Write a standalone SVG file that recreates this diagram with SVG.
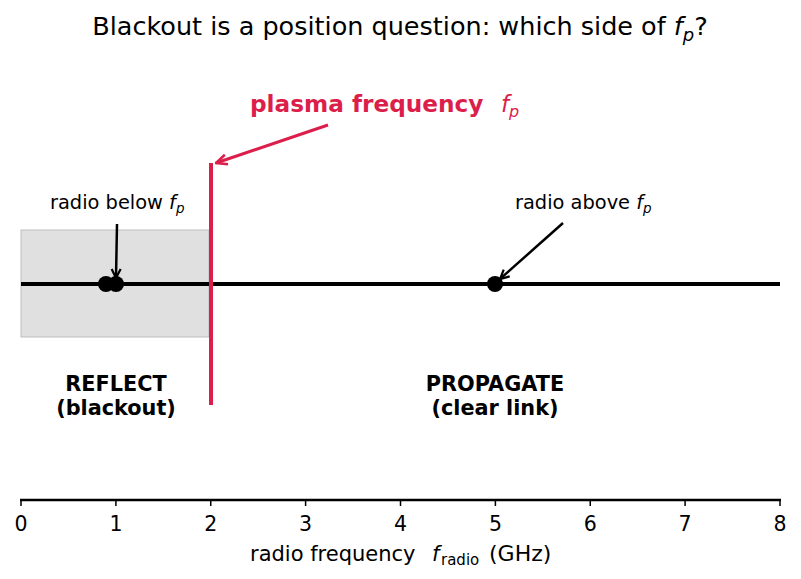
<svg xmlns="http://www.w3.org/2000/svg" width="801" height="579" viewBox="0 0 801 579">
<style>
text{font-family:"DejaVu Sans","Liberation Sans",sans-serif;fill:#000}
.tick{font-size:20.5px;text-anchor:middle}
.ann{font-size:19.4px}
.zone{font-size:20.8px;font-weight:bold;text-anchor:middle}
.it{font-style:italic;font-weight:normal}
.red{fill:#dc1e4b}
</style>
<defs>
<marker id="ab" viewBox="0 0 12 12" refX="11" refY="6" markerWidth="12" markerHeight="12" orient="auto" markerUnits="userSpaceOnUse">
<path d="M2,1.5 L11,6 L2,10.5" fill="none" stroke="#000" stroke-width="2.2"/>
</marker>
<marker id="ar" viewBox="0 0 14 14" refX="13" refY="7" markerWidth="14" markerHeight="14" orient="auto" markerUnits="userSpaceOnUse">
<path d="M2,2 L13,7 L2,12" fill="none" stroke="#dc1e4b" stroke-width="2.5"/>
</marker>
</defs>
<rect width="801" height="579" fill="#fff"/>
<text x="400" y="35" font-size="25.5" text-anchor="middle">Blackout is a position question: which side of <tspan class="it">f</tspan><tspan class="it" font-size="18" dy="6">p</tspan><tspan dy="-6">?</tspan></text>
<g id="reflect-zone">
<rect x="21" y="230" width="188" height="107" fill="#e0e0e0" stroke="#bdbdbd" stroke-width="1"/>
</g>
<g id="freq-line">
<line x1="21" y1="284" x2="780" y2="284" stroke="#000" stroke-width="4"/>
</g>
<g id="plasma-line">
<line x1="211" y1="163" x2="211" y2="405" stroke="#dc1e4b" stroke-width="4"/>
</g>
<g id="dots">
<circle cx="106" cy="284" r="8"/>
<circle cx="116" cy="284" r="8"/>
<circle cx="495" cy="284" r="8"/>
</g>
<g id="connectors">
<line x1="328" y1="125" x2="216" y2="163" stroke="#dc1e4b" stroke-width="3" marker-end="url(#ar)"/>
<line x1="117" y1="224" x2="116" y2="278" stroke="#000" stroke-width="2.5" marker-end="url(#ab)"/>
<line x1="563" y1="223" x2="500" y2="279" stroke="#000" stroke-width="2.5" marker-end="url(#ab)"/>
</g>
<g id="plasma-label">
<text x="250" y="112" font-size="23.2" font-weight="bold" class="red">plasma frequency<tspan x="501" class="it red" font-size="23">f</tspan><tspan class="it red" font-size="16" dy="5">p</tspan></text>
</g>
<g id="below-label">
<text x="50" y="209" class="ann">radio below <tspan class="it">f</tspan><tspan class="it" font-size="13.5" dy="4">p</tspan></text>
</g>
<g id="above-label">
<text x="515" y="209" class="ann">radio above <tspan class="it">f</tspan><tspan class="it" font-size="13.5" dy="4">p</tspan></text>
</g>
<g id="reflect-label">
<text x="116" y="391" class="zone">REFLECT</text>
<text x="116" y="415" class="zone">(blackout)</text>
</g>
<g id="propagate-label">
<text x="495" y="391" class="zone">PROPAGATE</text>
<text x="495" y="415" class="zone">(clear link)</text>
</g>
<g id="axis">
<line x1="20" y1="500" x2="781" y2="500" stroke="#000" stroke-width="2.5"/>
<g stroke="#000" stroke-width="1.5">
<line x1="21" y1="500" x2="21" y2="506"/>
<line x1="115.9" y1="500" x2="115.9" y2="506"/>
<line x1="210.75" y1="500" x2="210.75" y2="506"/>
<line x1="305.6" y1="500" x2="305.6" y2="506"/>
<line x1="400.5" y1="500" x2="400.5" y2="506"/>
<line x1="495.4" y1="500" x2="495.4" y2="506"/>
<line x1="590.25" y1="500" x2="590.25" y2="506"/>
<line x1="685.1" y1="500" x2="685.1" y2="506"/>
<line x1="780" y1="500" x2="780" y2="506"/>
</g>
<text x="21" y="531" class="tick">0</text>
<text x="115.9" y="531" class="tick">1</text>
<text x="210.75" y="531" class="tick">2</text>
<text x="305.6" y="531" class="tick">3</text>
<text x="400.5" y="531" class="tick">4</text>
<text x="495.4" y="531" class="tick">5</text>
<text x="590.25" y="531" class="tick">6</text>
<text x="685.1" y="531" class="tick">7</text>
<text x="780" y="531" class="tick">8</text>
<text x="250" y="561" font-size="21">radio frequency<tspan x="432" class="it">f</tspan><tspan x="441" font-size="15" dy="4">radio</tspan><tspan x="489" dy="-4" font-size="22">(GHz)</tspan></text>
</g>
</svg>
